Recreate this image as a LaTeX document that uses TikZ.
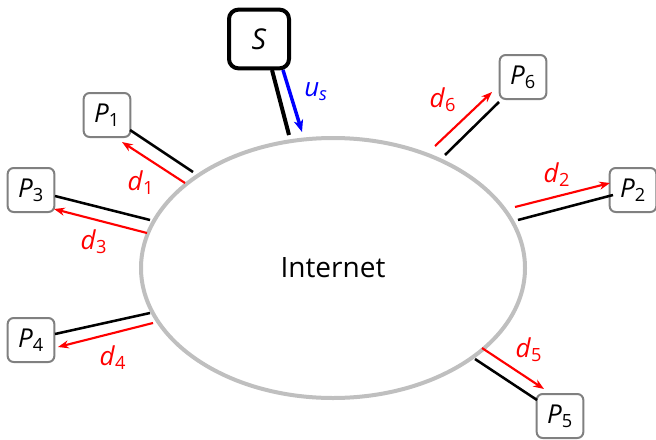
\documentclass[tikz,border=0pt]{standalone}
\usepackage{fontspec}
\setmainfont{Open Sans}
\usetikzlibrary{arrows.meta,shapes.geometric}
\begin{document}
\begin{tikzpicture}[x=0.75pt,y=-0.75pt,
  pbox/.style={draw=gray, line width=1.5pt, rounded corners=4.5pt, fill=white,
    minimum width=35pt, minimum height=33pt, inner sep=0pt,
    font=\fontsize{19.5}{22}\selectfont},
  sbox/.style={draw=black, line width=3pt, rounded corners=7pt, fill=white,
    minimum width=45pt, minimum height=44pt, inner sep=0pt,
    font=\fontsize{21.5}{24}\selectfont},
  link/.style={draw=black, line width=1.9pt},
  slink/.style={draw=black, line width=3pt},
  dflow/.style={draw=red, line width=1.6pt, -{Stealth[length=8pt,width=6pt,inset=2.5pt]}},
  uflow/.style={draw=blue, line width=2.6pt, -{Stealth[length=9pt,width=7pt,inset=2.5pt]}},
  dlab/.style={text=red, font=\fontsize{19.5}{22}\selectfont, inner sep=0pt},
  ulab/.style={text=blue, font=\fontsize{19.5}{22}\selectfont, inner sep=0pt}]
\useasboundingbox (0,0) rectangle (656,439);

\node[draw=gray!50, line width=3pt, ellipse, minimum width=288pt, minimum height=195pt,
  font=\fontsize{21}{24}\selectfont] (inet) at (333,268) {Internet};

\node[sbox] (S) at (259,39) {\textit{S}};
\node[pbox] (P1) at (107,115) {\textit{P}\textsubscript{1}};
\node[pbox] (P3) at (31,190) {\textit{P}\textsubscript{3}};
\node[pbox] (P4) at (31,340) {\textit{P}\textsubscript{4}};
\node[pbox] (P6) at (523,77) {\textit{P}\textsubscript{6}};
\node[pbox] (P2) at (633,190) {\textit{P}\textsubscript{2}};
\node[pbox] (P5) at (560,416) {\textit{P}\textsubscript{5}};

% attachment points on the ellipse
\coordinate (eS) at (289,135);
\coordinate (e1) at (193,172);
\coordinate (e3) at (150,220);
\coordinate (e4) at (150,313);
\coordinate (e6) at (445,155);
\coordinate (e2) at (518,220);
\coordinate (e5) at (475,359);

% black links
\draw[slink] (272,70) -- (eS);
\draw[link] (130,130) -- (e1);
\draw[link] (55,196) -- (e3);
\draw[link] (55,334) -- (e4);
\draw[link] (499,102) -- (e6);
\draw[link] (613,195) -- (e2);
\draw[link] (537,400) -- (e5);

% flows
\coordinate (uS0) at (283,70);
\coordinate (uS1) at (302,132);
\draw[uflow] (uS0) -- (uS1);
\coordinate (r1a) at (185,183); \coordinate (r1b) at (122,142);
\coordinate (r3a) at (147,233); \coordinate (r3b) at (54,209);
\coordinate (r4a) at (153,323); \coordinate (r4b) at (58,347);
\coordinate (r6a) at (435,146); \coordinate (r6b) at (492,92);
\coordinate (r2a) at (515,207); \coordinate (r2b) at (610,183);
\coordinate (r5a) at (482,348); \coordinate (r5b) at (544,389);
\draw[dflow] (r1a) -- (r1b);
\draw[dflow] (r3a) -- (r3b);
\draw[dflow] (r4a) -- (r4b);
\draw[dflow] (r6a) -- (r6b);
\draw[dflow] (r2a) -- (r2b);
\draw[dflow] (r5a) -- (r5b);

% labels
\node[ulab] (lu) at (316,92) {\textit{u}\textsubscript{\textit{s}}};
\node[dlab] (l1) at (141,183) {\textit{d}\textsubscript{1}};
\node[dlab] (l3) at (94,242) {\textit{d}\textsubscript{3}};
\node[dlab] (l4) at (113,358) {\textit{d}\textsubscript{4}};
\node[dlab] (l6) at (443,100) {\textit{d}\textsubscript{6}};
\node[dlab] (l2) at (557,175) {\textit{d}\textsubscript{2}};
\node[dlab] (l5) at (529,350) {\textit{d}\textsubscript{5}};
\end{tikzpicture}
\end{document}
